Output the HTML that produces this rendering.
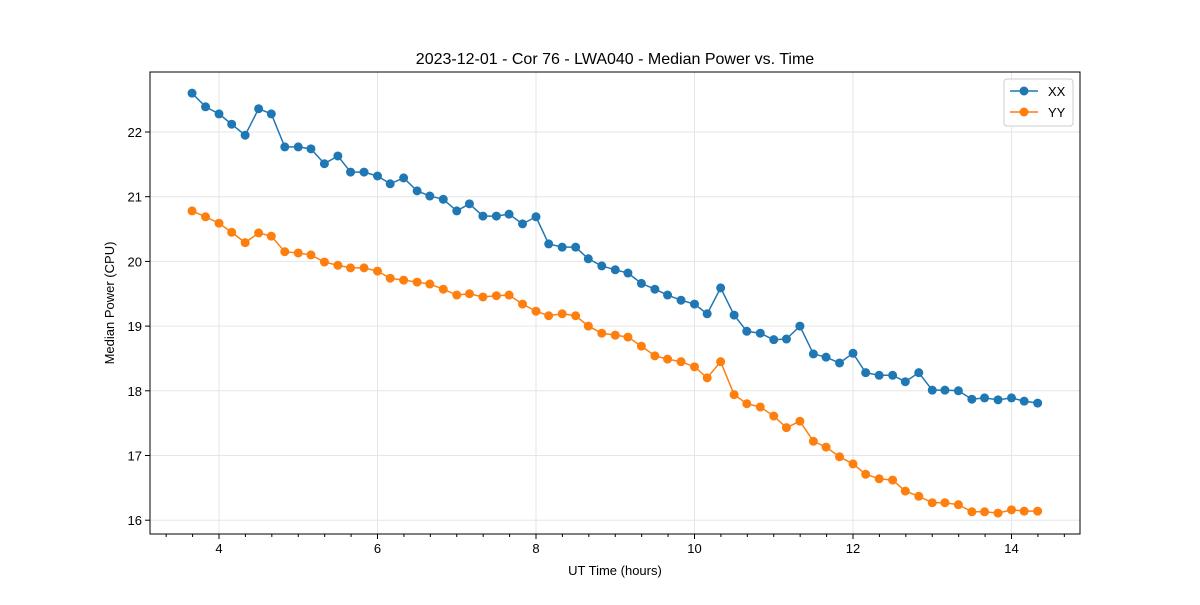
<!DOCTYPE html>
<html><head><meta charset="utf-8"><style>
body{margin:0;background:#fff;}
svg text{font-family:"Liberation Sans","DejaVu Sans",sans-serif;fill:#000;}
</style></head><body>
<svg id="chart" width="1200" height="600" xmlns="http://www.w3.org/2000/svg">
<rect width="1200" height="600" fill="#fff"/>
<g id="grid"></g><g id="series"></g><g id="axes"></g>
<text x="615" y="64" text-anchor="middle" font-size="16">2023-12-01 - Cor 76 - LWA040 - Median Power vs. Time</text>
<text x="615" y="575" text-anchor="middle" font-size="13">UT Time (hours)</text>
<text transform="translate(114,303) rotate(-90)" text-anchor="middle" font-size="13">Median Power (CPU)</text>
<g>
<rect x="1004" y="79" width="69" height="47" fill="#fff" stroke="#ccc" rx="3"/>
<line x1="1010" y1="91" x2="1038" y2="91" stroke="#1f77b4" stroke-width="1.5"/><circle cx="1024" cy="91" r="4.5" fill="#1f77b4"/>
<text x="1048" y="96" font-size="13">XX</text>
<line x1="1010" y1="112" x2="1038" y2="112" stroke="#ff7f0e" stroke-width="1.5"/><circle cx="1024" cy="112" r="4.5" fill="#ff7f0e"/>
<text x="1048" y="117" font-size="13">YY</text>
</g>
</svg>
<script>
const times=[3.66,3.83,4.00,4.16,4.33,4.50,4.66,4.83,5.00,5.16,5.33,5.50,5.66,5.83,6.00,6.16,6.33,6.50,6.66,6.83,7.00,7.16,7.33,7.50,7.66,7.83,8.00,8.16,8.33,8.50,8.66,8.83,9.00,9.16,9.33,9.50,9.66,9.83,10.00,10.16,10.33,10.50,10.66,10.83,11.00,11.16,11.33,11.50,11.66,11.83,12.00,12.16,12.33,12.50,12.66,12.83,13.00,13.16,13.33,13.50,13.66,13.83,14.00,14.16,14.33];
const xx=[22.60,22.39,22.28,22.12,21.95,22.36,22.28,21.77,21.77,21.74,21.51,21.63,21.38,21.38,21.32,21.20,21.29,21.09,21.01,20.96,20.78,20.89,20.70,20.70,20.73,20.58,20.69,20.27,20.22,20.22,20.04,19.93,19.87,19.82,19.66,19.57,19.48,19.40,19.34,19.19,19.59,19.17,18.92,18.89,18.79,18.80,19.00,18.57,18.52,18.43,18.58,18.28,18.24,18.24,18.14,18.28,18.01,18.01,18.00,17.87,17.89,17.86,17.89,17.84,17.81];
const yy=[20.78,20.69,20.59,20.45,20.29,20.44,20.39,20.15,20.13,20.10,19.99,19.94,19.90,19.90,19.85,19.74,19.71,19.68,19.65,19.57,19.48,19.50,19.45,19.47,19.48,19.34,19.23,19.16,19.19,19.16,19.00,18.89,18.86,18.83,18.69,18.54,18.49,18.45,18.37,18.20,18.45,17.94,17.80,17.75,17.61,17.43,17.53,17.22,17.13,16.98,16.87,16.71,16.64,16.62,16.45,16.37,16.27,16.27,16.24,16.13,16.13,16.11,16.16,16.14,16.14];
const xTicks=[4,6,8,10,12,14];
const yTicks=[16,17,18,19,20,21,22];
const NS="http://www.w3.org/2000/svg";
const L=150,R=1080,T=72,B=534;
const X=v=>219+(v-4)*79.25;
const Y=v=>132-(v-22)*64.7;
function mk(tag,attrs,parent){const e=document.createElementNS(NS,tag);for(const k in attrs)e.setAttribute(k,attrs[k]);parent.appendChild(e);return e;}
const grid=document.getElementById('grid'),axes=document.getElementById('axes'),ser=document.getElementById('series');
xTicks.forEach(t=>{
  mk('line',{x1:X(t),x2:X(t),y1:T,y2:B,stroke:'#e6e6e6','stroke-width':1},grid);
  mk('line',{x1:X(t),x2:X(t),y1:B,y2:B+5,stroke:'#000'},axes);
  const tx=mk('text',{x:X(t),y:B+19,'text-anchor':'middle','font-size':13},axes);tx.textContent=t;
  
  
});
for(let k=-3;k<=33;k++){const m=4+k/3;if(k%6!==0&&X(m)>L&&X(m)<R){mk('line',{x1:X(m),x2:X(m),y1:B,y2:B+3,stroke:'#000'},axes);}}
yTicks.forEach(t=>{
  mk('line',{x1:L,x2:R,y1:Y(t),y2:Y(t),stroke:'#e6e6e6','stroke-width':1},grid);
  mk('line',{x1:L-5,x2:L,y1:Y(t),y2:Y(t),stroke:'#000'},axes);
  const tx=mk('text',{x:L-8,y:Y(t)+5,'text-anchor':'end','font-size':13},axes);tx.textContent=t;
  
  
});
const frame=mk('rect',{x:L,y:T,width:R-L,height:B-T,fill:'none',stroke:'#000','stroke-width':1},axes);


[[xx,'#1f77b4','xx'],[yy,'#ff7f0e','yy']].forEach(([vals,c,n])=>{
  const pl=mk('polyline',{points:vals.map((v,i)=>X(times[i])+','+Y(v)).join(' '),fill:'none',stroke:c,'stroke-width':1.5},ser);
  
  
  vals.forEach((v,i)=>{
    const p=mk('circle',{cx:X(times[i]),cy:Y(v),r:4.5,fill:c},ser);
    
    
  });
});
</script>
</body></html>
